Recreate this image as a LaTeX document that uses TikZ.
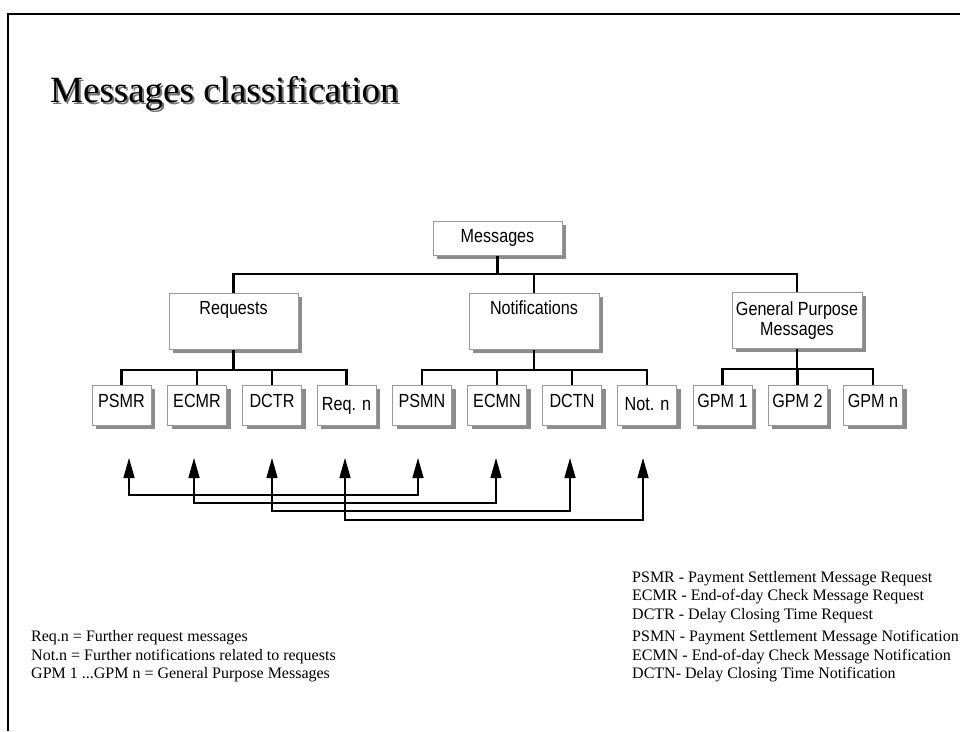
\documentclass[tikz,border=0pt]{standalone}
\usepackage{fontspec}
\setmainfont{Liberation Serif}
\setsansfont{Liberation Sans}
\newfontfamily\boxfont[FakeStretch=0.85]{Liberation Sans}
\usetikzlibrary{shadows,arrows.meta}
\begin{document}
\begin{tikzpicture}[x=1pt,y=-1pt,
  box/.style={draw=black!40, line width=0.8pt, fill=white, inner sep=0pt,
    font=\boxfont\fontsize{19}{20}\selectfont,
    drop shadow={shadow xshift=4pt, shadow yshift=-4pt, fill=black!45, opacity=1}},
  bigbox/.style={box, anchor=north, text height=21pt, text depth=35pt},
  leaf/.style={box, anchor=north, minimum width=59pt, text height=22pt, text depth=18pt},
  leaflow/.style={leaf, text height=25pt, text depth=15pt},
  tree/.style={line width=2.5pt},
  link/.style={line width=1.3pt, {Triangle[length=20pt,width=11pt]}-{Triangle[length=20pt,width=11pt]}},
  legend/.style={anchor=base west, inner sep=0pt, font=\fontsize{16}{18.5}\selectfont},
  titlefont/.style={anchor=base west, inner sep=0pt, font=\fontsize{37}{40}\selectfont}]
\useasboundingbox (0,0) rectangle (960,731);
\fill[white] (0,0) rectangle (960,731);
% frame
\draw[line width=2pt] (8,731) -- (8,14) -- (960,14);
% title with shadow
\node[titlefont, text=black!55] (tshadow) at (52,104) {Messages classification};
\node[titlefont] (title) at (50,102) {Messages classification};
% tree boxes
\node[box, anchor=north, minimum width=129pt, text height=21pt, text depth=13pt] (msg) at (497.5,221) {Messages};
\node[bigbox, minimum width=129pt] (req) at (233.5,293) {Requests};
\node[bigbox, minimum width=130pt] (notif) at (534,293) {Notifications};
\node[box, anchor=north, minimum width=130pt, minimum height=56pt, align=center] (gpm) at (797,292) {General Purpose\\Messages};
% leaves
\node[leaf] (psmr) at (121.5,385) {PSMR};
\node[leaf] (ecmr) at (197,385) {ECMR};
\node[leaf] (dctr) at (272,385) {DCTR};
\node[leaflow] (reqn) at (346.5,385) {Req. n};
\node[leaf] (psmn) at (422,385) {PSMN};
\node[leaf] (ecmn) at (497,385) {ECMN};
\node[leaf] (dctn) at (572,385) {DCTN};
\node[leaflow] (notn) at (647,385) {Not. n};
\node[leaf] (gpm1) at (722.5,385) {GPM 1};
\node[leaf] (gpm2) at (797.5,385) {GPM 2};
\node[leaf] (gpmn) at (873,385) {GPM n};
% tree connectors
\draw[tree] (msg.south) -- ++(0,18) -| (req.north);
\draw[tree] (msg.south) -- ++(0,18) -| (notif.north);
\draw[tree] (msg.south) -- ++(0,18) -| (gpm.north);
\foreach \c in {psmr,ecmr,dctr,reqn}{\draw[tree] (req.south) -- ++(0,20) -| (\c.north);}
\foreach \c in {psmn,ecmn,dctn,notn}{\draw[tree] (notif.south) -- ++(0,20) -| (\c.north);}
\foreach \c in {gpm1,gpm2,gpmn}{\draw[tree] (gpm.south) -- ++(0,20) -| (\c.north);}
% request / notification links
\coordinate (u1) at (129,458);
\coordinate (u2) at (194,458);
\coordinate (u3) at (272,458);
\coordinate (u4) at (345,458);
\coordinate (u5) at (418,458);
\coordinate (u6) at (496,458);
\coordinate (u7) at (570,458);
\coordinate (u8) at (643,458);
\draw[link] (u1) -- ++(0,37) -| (u5);
\draw[link] (u2) -- ++(0,45) -| (u6);
\draw[link] (u3) -- ++(0,53) -| (u7);
\draw[link] (u4) -- ++(0,62) -| (u8);
% legends
\node[legend] (lr1) at (632,582) {PSMR - Payment Settlement Message Request};
\node[legend] (lr2) at (632,600.5) {ECMR - End-of-day Check Message Request};
\node[legend] (lr3) at (632,619) {DCTR - Delay Closing Time Request};
\node[legend] (ln1) at (632,641.5) {PSMN - Payment Settlement Message Notification};
\node[legend] (ln2) at (632,660) {ECMN - End-of-day Check Message Notification};
\node[legend] (ln3) at (632,678.5) {DCTN- Delay Closing Time Notification};
\node[legend] (ll1) at (31,641.5) {Req.n = Further request messages};
\node[legend] (ll2) at (31,660) {Not.n = Further notifications related to requests};
\node[legend] (ll3) at (31,678.5) {GPM 1 ...GPM n = General Purpose Messages};
\end{tikzpicture}
\end{document}
